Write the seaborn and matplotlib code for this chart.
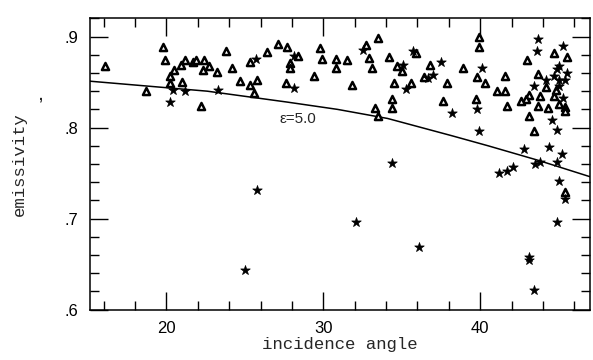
import matplotlib
matplotlib.use("Agg")
import matplotlib.pyplot as plt
from matplotlib.ticker import MultipleLocator
import seaborn as sns

# model curve (epsilon = 5.0)
curve_x = [15.1, 22.6, 27.7, 30.9, 34.1, 38.2, 40.5, 43.7, 47.0]
curve_y = [.851, .840, .828, .820, .810, .791, .780, .764, .746]

# open triangles
tri_x = [16.1, 19.8, 19.9, 20.2, 20.5, 20.9, 21.2, 21.7, 21.9, 22.4,
         22.3, 22.7, 20.2, 21.0, 18.7, 22.2, 23.2, 23.8, 24.2, 25.3,
         26.4, 27.1, 27.7, 28.4, 27.9, 27.9, 29.8, 29.9, 30.8, 30.8,
         29.4, 24.7, 25.3, 25.8, 25.6, 27.6, 33.5, 32.7, 31.5, 32.9,
         34.2, 33.1, 35.9, 34.7, 35.0, 36.8, 31.8, 34.5, 35.6, 37.9,
         34.4, 33.3, 34.4, 33.5, 37.6, 36.4, 39.9, 39.9, 38.9, 39.8,
         40.3, 41.6, 41.1, 41.6, 39.7, 41.7, 43.1, 43.0, 44.7, 45.5,
         43.7, 44.2, 44.7, 43.8, 43.1, 42.9, 42.6, 45.0, 45.4, 43.7,
         44.3, 45.4, 43.4, 45.4, 44.8]
tri_y = [.868, .888, .874, .857, .863, .869, .874, .872, .874, .874,
         .863, .868, .849, .850, .840, .824, .861, .884, .866, .872,
         .883, .892, .889, .879, .871, .865, .887, .875, .875, .865,
         .857, .851, .847, .852, .838, .849, .898, .891, .874, .876,
         .877, .866, .882, .868, .862, .869, .847, .849, .849, .849,
         .831, .822, .821, .813, .829, .856, .899, .888, .866, .856,
         .849, .857, .840, .840, .831, .824, .813, .874, .882, .878,
         .859, .845, .835, .835, .836, .831, .829, .826, .823, .824,
         .821, .818, .796, .729, .841]

# stars
star_x = [20.4, 21.2, 20.2, 23.3, 25.7, 28.1, 28.1, 32.5, 35.7, 35.1,
          37.5, 36.7, 37.0, 35.3, 38.2, 34.4, 40.1, 39.8, 39.9, 43.7,
          43.6, 45.3, 45.0, 44.9, 45.5, 44.7, 45.0, 44.2, 43.4, 45.0,
          45.4, 45.3, 44.6, 44.9, 42.8, 44.4, 45.2, 44.9, 43.5, 43.8,
          41.2, 41.7, 42.1, 45.0, 45.4, 44.9, 43.1, 43.1, 43.4, 25.8,
          25.0, 32.1, 36.1]
star_y = [.841, .840, .828, .841, .875, .879, .844, .885, .884, .869,
          .872, .855, .858, .842, .816, .761, .865, .820, .796, .897,
          .884, .890, .868, .864, .860, .857, .852, .852, .846, .846,
          .852, .832, .808, .797, .776, .779, .771, .762, .760, .762,
          .750, .752, .757, .741, .722, .696, .658, .655, .622, .731,
          .643, .696, .669]

x_ticks = [20, 30, 40]
x_ticklabels = ["20", "30", "40"]
y_ticks = [0.6, 0.7, 0.8, 0.9]
y_ticklabels = [".6", ".7", ".8", ".9"]

sns.set_style("ticks")
plt.rcParams['font.family'] = ['Liberation Sans', 'DejaVu Sans']

fig = plt.figure(figsize=(5.93, 3.6), dpi=100)
ax = fig.add_axes([0.151, 0.140, 0.844, 0.809])

sns.lineplot(x=curve_x, y=curve_y, sort=False, color='black', lw=1.1, ax=ax)
sns.scatterplot(x=tri_x, y=tri_y, marker='^', s=26, color='black',
                facecolor='white', edgecolor='black', linewidth=1.8, ax=ax, zorder=3)
sns.scatterplot(x=star_x, y=star_y, marker='*', s=52, color='black',
                edgecolor='black', linewidth=0.5, ax=ax, zorder=4)

ax.text(27.2, 0.809, "\u03b5=5.0", fontsize=11, ha='left', va='center')

ax.set_xlim(15.1, 47.0)
ax.set_ylim(0.6, 0.92)
ax.set_xticks(x_ticks)
ax.set_xticklabels(x_ticklabels)
ax.set_yticks(y_ticks)
ax.set_yticklabels(y_ticklabels)
ax.xaxis.set_minor_locator(MultipleLocator(2))
ax.yaxis.set_minor_locator(MultipleLocator(0.02))
ax.tick_params(which='both', direction='in', top=True, right=True,
               width=1.0, color='black')
ax.tick_params(which='major', length=13, pad=8, labelsize=12, labelcolor='black')
ax.tick_params(which='minor', length=6.5)
for sp in ax.spines.values():
    sp.set_color('black')
    sp.set_linewidth(1.1)

ax.set_xlabel('incidence angle', family='Liberation Mono', fontsize=12.5)
ax.set_ylabel('emissivity', family='Liberation Mono', fontsize=12.5)
ax.xaxis.set_label_coords(0.5, -0.095)
ax.yaxis.set_label_coords(-0.125, 0.5)
fig.text(40 / 593, 1 - 95 / 360, ',', fontsize=10, fontweight='bold',
         ha='center', va='center')

fig.savefig('out.png', dpi=100)
